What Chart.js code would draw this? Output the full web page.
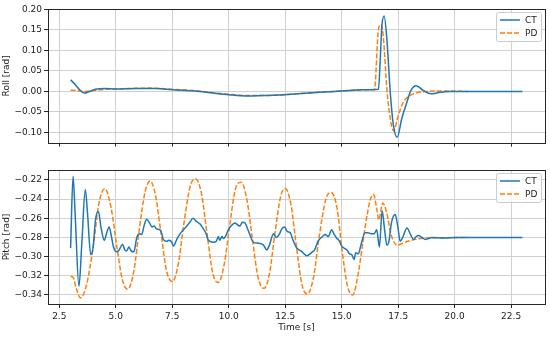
<!DOCTYPE html>
<html>
<head>
<meta charset="utf-8">
<script src="https://cdn.jsdelivr.net/npm/chart.js@4.4.1/dist/chart.umd.min.js"></script>
<style>
  html, body { margin: 0; padding: 0; background: #fff; }
  #wrap { position: relative; width: 550px; height: 338px; }
  .box { position: absolute; left: 0; width: 550px; }
  #rollBox { top: 0; height: 150px; }
  #pitchBox { top: 150px; height: 188px; }
</style>
</head>
<body>
<div id="wrap">
  <div class="box" id="rollBox"><canvas id="rollChart"></canvas></div>
  <div class="box" id="pitchBox"><canvas id="pitchChart"></canvas></div>
</div>
<script>
// --- data ---
const xTicks = [2.5, 5.0, 7.5, 10.0, 12.5, 15.0, 17.5, 20.0, 22.5];
const rollTicks = [-0.10, -0.05, 0.00, 0.05, 0.10, 0.15, 0.20];
const pitchTicks = [-0.34, -0.32, -0.30, -0.28, -0.26, -0.24, -0.22];

// Roll, CT
const rollCtTime = [3.0, 3.2, 3.4, 3.6, 3.8, 4.1, 4.5, 5.0, 6.0, 6.8, 7.5, 8.5, 9.3, 10.0, 10.8, 11.5, 12.2, 13.0, 14.0, 15.0, 16.0, 16.63,
  16.7, 16.78, 16.88, 17.0, 17.15, 17.29, 17.46, 17.66, 17.89, 18.06, 18.3, 18.62, 18.96, 19.36, 19.8, 23.0];
const rollCtValue = [0.028, 0.017, 0.004, -0.004, -0.001, 0.005, 0.007, 0.006, 0.007, 0.007, 0.004, 0.001, -0.004, -0.008, -0.011, -0.010, -0.009, -0.006, -0.002, 0.001, 0.004, 0.005,
  0.07, 0.16, 0.184, 0.128, -0.002, -0.083, -0.112, -0.066, -0.026, 0.002, 0.014, 0.002, -0.006, -0.002, 0.0, 0.0];

// Roll, PD
const rollPdTime = [3.0, 3.3, 3.6, 4.0, 4.5, 5.5, 6.5, 7.5, 8.5, 9.3, 10.0, 10.8, 11.5, 12.2, 13.0, 14.0, 15.0, 16.0, 16.45,
  16.63, 16.75, 16.85, 17.0, 17.15, 17.29, 17.51, 17.73, 18.03, 18.33, 18.8, 19.5, 20.6];
const rollPdValue = [0.003, 0.002, 0.0, 0.002, 0.005, 0.007, 0.008, 0.005, 0.002, -0.003, -0.007, -0.010, -0.010, -0.009, -0.006, -0.002, 0.001, 0.004, 0.004,
  0.152, 0.163, 0.128, 0.006, -0.066, -0.096, -0.058, -0.026, -0.010, -0.003, 0.0, 0.001, 0.0];

// Pitch, CT
const pitchCtTime = [3.0, 3.11, 3.2, 3.37, 3.5, 3.65, 3.75, 3.89, 4.0, 4.1, 4.23, 4.35, 4.49, 4.6, 4.71, 4.8, 4.9, 5.04, 5.15, 5.3, 5.4, 5.48, 5.58, 5.68, 5.8,
  5.93, 6.05, 6.15, 6.25, 6.37, 6.5, 6.6, 6.7, 6.8, 6.96, 7.05, 7.1, 7.25, 7.35, 7.48, 7.55, 7.7, 7.85, 8.07, 8.25, 8.43, 8.55, 8.73, 8.85,
  9.0, 9.1, 9.32, 9.45, 9.54, 9.6, 9.7, 9.76, 9.85, 9.98, 10.1, 10.28, 10.4, 10.5, 10.6, 10.72, 10.85, 10.95, 11.09, 11.3, 11.54, 11.68, 11.8, 11.98,
  12.1, 12.25, 12.35, 12.47, 12.6, 12.72, 12.85, 13.01, 13.2, 13.46, 13.65, 13.8, 13.95, 14.05, 14.15, 14.27, 14.4, 14.56, 14.65, 14.79, 14.88,
  15.0, 15.1, 15.23, 15.35, 15.45, 15.55, 15.62, 15.74, 15.85, 16.04, 16.15, 16.3, 16.44, 16.55, 16.67, 16.79, 16.9, 17.0, 17.1, 17.2, 17.37,
  17.48, 17.59, 17.7, 17.89, 18.05, 18.18, 18.3, 18.4, 18.55, 18.7, 18.85, 19.0, 19.5, 20.0, 23.0];
const pitchCtValue = [-0.291, -0.216, -0.255, -0.331, -0.285, -0.230, -0.255, -0.298, -0.290, -0.262, -0.253, -0.270, -0.283, -0.275, -0.269, -0.278, -0.290, -0.295, -0.293, -0.287, -0.293, -0.294, -0.290, -0.294, -0.295,
  -0.280, -0.276, -0.277, -0.268, -0.261, -0.265, -0.269, -0.268, -0.271, -0.272, -0.277, -0.282, -0.284, -0.283, -0.285, -0.289, -0.282, -0.276, -0.270, -0.265, -0.260, -0.263, -0.266, -0.270,
  -0.276, -0.283, -0.285, -0.284, -0.279, -0.283, -0.279, -0.281, -0.279, -0.272, -0.268, -0.265, -0.267, -0.268, -0.264, -0.265, -0.272, -0.278, -0.285, -0.286, -0.288, -0.293, -0.288, -0.276,
  -0.280, -0.276, -0.271, -0.269, -0.274, -0.275, -0.283, -0.291, -0.294, -0.299, -0.296, -0.293, -0.284, -0.281, -0.279, -0.277, -0.279, -0.272, -0.276, -0.281, -0.283,
  -0.289, -0.291, -0.293, -0.297, -0.298, -0.303, -0.296, -0.297, -0.288, -0.275, -0.275, -0.276, -0.276, -0.272, -0.290, -0.252, -0.272, -0.288, -0.283, -0.265, -0.256,
  -0.268, -0.284, -0.280, -0.270, -0.277, -0.282, -0.279, -0.278, -0.280, -0.282, -0.281, -0.280, -0.2805, -0.280, -0.280];

// Pitch, PD
const pitchPdTime = [3.0, 3.12, 3.25, 3.43, 3.7, 4.0, 4.25, 4.52, 4.8, 5.05, 5.3, 5.53, 5.8, 6.05, 6.3, 6.52, 6.75, 7.0, 7.25, 7.5, 7.75, 8.0, 8.3, 8.54,
  8.8, 9.05, 9.3, 9.54, 9.8, 10.05, 10.3, 10.55, 10.8, 11.05, 11.3, 11.57, 11.8, 12.05, 12.3, 12.5, 12.75, 13.0, 13.25, 13.48, 13.75, 14.0,
  14.3, 14.53, 14.8, 15.0, 15.25, 15.49, 15.75, 16.0, 16.25, 16.41, 16.55, 16.64, 16.82, 17.0, 17.2, 17.45, 17.7, 18.0, 18.5, 19.0, 20.6];
const pitchPdValue = [-0.3206, -0.322, -0.333, -0.343, -0.330, -0.290, -0.245, -0.229, -0.250, -0.290, -0.325, -0.334, -0.315, -0.270, -0.232, -0.221, -0.235, -0.275, -0.315, -0.326, -0.310, -0.268, -0.226, -0.219,
  -0.235, -0.278, -0.318, -0.327, -0.308, -0.266, -0.229, -0.2224, -0.240, -0.282, -0.322, -0.333, -0.318, -0.275, -0.237, -0.229, -0.245, -0.290, -0.330, -0.339, -0.322, -0.280,
  -0.240, -0.233, -0.250, -0.290, -0.330, -0.340, -0.315, -0.275, -0.242, -0.235, -0.250, -0.2616, -0.244, -0.255, -0.278, -0.288, -0.286, -0.2835, -0.281, -0.2805, -0.280];

const BLUE = "#1f77b4";
const ORANGE = "#ff7f0e";
const FONT = "'DejaVu Sans', sans-serif";

function pairs(xs, ys) {
    return xs.map((x, i) => ({ x: x, y: ys[i] }));
}

function fmt(v, digits) {
    let s = Math.abs(v).toFixed(digits);
    return v < -1e-9 ? "\u2212" + s : s;
}

// frame round the plot area + matplotlib-style legend
const framePlugin = {
    id: "frame",
    afterDraw(chart) {
        const ctx = chart.ctx;
        const a = chart.chartArea;
        ctx.save();
        ctx.strokeStyle = "#262626";
        ctx.lineWidth = 1;
        ctx.strokeRect(Math.round(a.left) + 0.5, Math.round(a.top) + 0.5,
            Math.round(a.right - a.left), Math.round(a.bottom - a.top));

        // legend
        const w = 45, h = 29;
        const x0 = a.right - w - 4, y0 = a.top + 3;
        ctx.fillStyle = "rgba(255,255,255,0.8)";
        ctx.strokeStyle = "#cccccc";
        ctx.lineWidth = 1;
        ctx.beginPath();
        ctx.roundRect(x0 + 0.5, y0 + 0.5, w, h, 2);
        ctx.fill();
        ctx.stroke();
        const entries = chart.data.datasets;
        ctx.font = "9px " + FONT;
        ctx.textBaseline = "middle";
        entries.forEach((ds, i) => {
            const yy = y0 + 8 + i * 13;
            ctx.strokeStyle = ds.borderColor;
            ctx.lineWidth = 1.5;
            ctx.setLineDash(ds.borderDash || []);
            ctx.beginPath();
            ctx.moveTo(x0 + 4, yy);
            ctx.lineTo(x0 + 24, yy);
            ctx.stroke();
            ctx.setLineDash([]);
            ctx.fillStyle = "#222";
            ctx.fillText(ds.label, x0 + 29, yy + 0.5);
        });
        ctx.restore();
    }
};

function makeChart(canvasId, opts) {
    const ctx = document.getElementById(canvasId).getContext("2d");
    return new Chart(ctx, {
        type: "line",
        data: {
            datasets: [
                {
                    label: "CT",
                    data: pairs(opts.ctTime, opts.ctValue),
                    borderColor: BLUE,
                    borderWidth: 1.5,
                    pointRadius: 0,
                    cubicInterpolationMode: "monotone",
                },
                {
                    label: "PD",
                    data: pairs(opts.pdTime, opts.pdValue),
                    borderColor: ORANGE,
                    borderWidth: 1.5,
                    borderDash: [5, 2],
                    pointRadius: 0,
                    cubicInterpolationMode: "monotone",
                }
            ]
        },
        options: {
            responsive: true,
            maintainAspectRatio: false,
            animation: false,
            layout: { padding: { top: opts.padTop, left: 0, right: 5, bottom: opts.padBottom } },
            plugins: { legend: { display: false }, tooltip: { enabled: false } },
            scales: {
                x: {
                    type: "linear",
                    min: 2, max: 24,
                    afterBuildTicks: (s) => { s.ticks = xTicks.map(v => ({ value: v })); },
                    afterFit: (s) => { s.height = opts.xHeight; },
                    grid: { color: "#d0d0d0", tickColor: "#262626", tickLength: 4, lineWidth: 1 },
                    border: { display: false },
                    ticks: {
                        display: opts.showX,
                        padding: 3,
                        color: "#222",
                        font: { family: FONT, size: 9 },
                        maxRotation: 0,
                        callback: (v) => v.toFixed(1),
                    },
                    title: {
                        display: opts.showX,
                        text: "Time [s]",
                        color: "#222",
                        font: { family: FONT, size: 9 },
                        padding: { top: 2, bottom: 0 },
                    },
                },
                y: {
                    min: opts.yMin, max: opts.yMax,
                    afterBuildTicks: (s) => { s.ticks = opts.yTicks.map(v => ({ value: v })); },
                    afterFit: (s) => { s.width = 48; },
                    grid: { color: "#d0d0d0", tickColor: "#262626", tickLength: 4, lineWidth: 1 },
                    border: { display: false },
                    ticks: {
                        padding: 2,
                        color: "#222",
                        font: { family: FONT, size: 9 },
                        callback: (v) => fmt(v, 2),
                    },
                    title: {
                        display: true,
                        text: opts.yLabel,
                        color: "#222",
                        font: { family: FONT, size: 9 },
                        padding: { top: 1, bottom: 0 },
                    },
                }
            }
        },
        plugins: [framePlugin]
    });
}

makeChart("rollChart", {
    ctTime: rollCtTime, ctValue: rollCtValue,
    pdTime: rollPdTime, pdValue: rollPdValue,
    yMin: -0.1248, yMax: 0.2008, yTicks: rollTicks, yLabel: "Roll [rad]",
    padTop: 9, padBottom: 0, xHeight: 7, showX: false,
});

makeChart("pitchChart", {
    ctTime: pitchCtTime, ctValue: pitchCtValue,
    pdTime: pitchPdTime, pdValue: pitchPdValue,
    yMin: -0.3494, yMax: -0.2096, yTicks: pitchTicks, yLabel: "Pitch [rad]",
    padTop: 20, padBottom: 5, xHeight: 29, showX: true,
});
</script>
</body>
</html>
